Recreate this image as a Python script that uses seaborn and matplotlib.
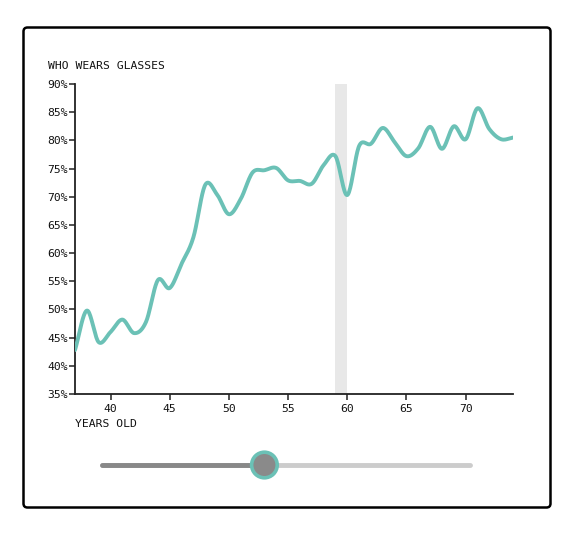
import numpy as np
import pandas as pd
import matplotlib
matplotlib.use("Agg")
import matplotlib.pyplot as plt
from matplotlib.patches import FancyBboxPatch, Circle
import seaborn as sns

# ---- data ----
ages = list(range(37, 75))
pct = [42.8, 49.8, 44.2, 46.0, 48.2, 45.8, 47.8, 55.2, 53.8, 58.1,
       62.8, 72.1, 70.4, 66.9, 69.6, 74.3, 74.7, 75.1, 72.9, 72.8,
       72.3, 75.6, 77.2, 70.3, 79.0, 79.4, 82.2, 79.7, 77.2, 78.6,
       82.4, 78.5, 82.5, 80.2, 85.7, 82.0, 80.2, 80.5]
highlight = [59, 60]
y_ticks = [35, 40, 45, 50, 55, 60, 65, 70, 75, 80, 85, 90]
x_ticks = [40, 45, 50, 55, 60, 65, 70]
title = "WHO WEARS GLASSES"
xlabel = "YEARS OLD"
slider_value = 0.44  # fraction of slider track

LINE = "#6bc1b6"
FONT = "DejaVu Sans Mono"

# Catmull-Rom smoothing of the curve through the data points (rendering only)
def catmull_rom(x, y, n=20):
    x = np.asarray(x, float); y = np.asarray(y, float)
    px = np.concatenate([[2 * x[0] - x[1]], x, [2 * x[-1] - x[-2]]])
    py = np.concatenate([[2 * y[0] - y[1]], y, [2 * y[-1] - y[-2]]])
    xs, ys = [], []
    t = np.linspace(0, 1, n, endpoint=False)
    for i in range(1, len(px) - 2):
        for arr, out in ((px, xs), (py, ys)):
            p0, p1, p2, p3 = arr[i - 1], arr[i], arr[i + 1], arr[i + 2]
            out.extend(0.5 * ((2 * p1) + (-p0 + p2) * t +
                              (2 * p0 - 5 * p1 + 4 * p2 - p3) * t ** 2 +
                              (-p0 + 3 * p1 - 3 * p2 + p3) * t ** 3))
    xs.append(x[-1]); ys.append(y[-1])
    return np.array(xs), np.array(ys)

sx, sy = catmull_rom(ages, pct)
df = pd.DataFrame({"age": sx, "pct": sy})

sns.set_theme(style="white")
plt.rcParams["font.family"] = [FONT, "DejaVu Sans"]

W, H = 564, 533
fig = plt.figure(figsize=(W / 100, H / 100), dpi=100)

# overlay for frame and slider (pixel coordinates)
ov = fig.add_axes([0, 0, 1, 1])
ov.set_xlim(0, W); ov.set_ylim(H, 0); ov.axis("off")
ov.add_patch(FancyBboxPatch((23.5, 27.5), 527, 480, boxstyle="round,pad=0,rounding_size=4",
                            fill=False, lw=1.8, ec="black"))
tx0, tx1, ty = 102, 470, 465
knob_x = tx0 + slider_value * (tx1 - tx0)
ov.plot([tx0, tx1], [ty, ty], color="#cccccc", lw=3.5, solid_capstyle="round", zorder=1)
ov.plot([tx0, knob_x], [ty, ty], color="#888888", lw=3.5, solid_capstyle="round", zorder=2)
ov.add_patch(Circle((knob_x + 0.5, ty), 12.8, fc="#8a8a8a", ec=LINE, lw=2.6, zorder=5))

# main chart
ax = fig.add_axes([75 / W, 1 - 394 / H, (513 - 75) / W, (394 - 84) / H])
ax.axvspan(highlight[0], highlight[1], color="#e8e8e8", lw=0, zorder=0)
sns.lineplot(data=df, x="age", y="pct", ax=ax, color=LINE, lw=2.8, sort=False, zorder=3)
ax.set_xlim(ages[0], ages[-1])
ax.set_ylim(y_ticks[0], y_ticks[-1])
ax.set_yticks(y_ticks)
ax.set_yticklabels([f"{v}%" for v in y_ticks])
ax.set_xticks(x_ticks)
ax.set_xticklabels([str(v) for v in x_ticks])
ax.set_xlabel(""); ax.set_ylabel("")
ax.patch.set_alpha(0)
for s in ["top", "right"]:
    ax.spines[s].set_visible(False)
for s in ["left", "bottom"]:
    ax.spines[s].set_color("#222222")
    ax.spines[s].set_linewidth(1.3)
ax.tick_params(axis="both", length=4.5, width=1.1, color="#222222", labelsize=8.2,
               labelcolor="#111111", direction="out", left=True, bottom=True)
ax.tick_params(axis="y", pad=0.5)
ax.tick_params(axis="x", pad=3)

ov.text(48, 66, title, fontsize=8.2, family=FONT, color="#111111", va="center", ha="left")
ov.text(75, 424, xlabel, fontsize=8.2, family=FONT, color="#111111", va="center", ha="left")

fig.savefig("out.png", dpi=100)
